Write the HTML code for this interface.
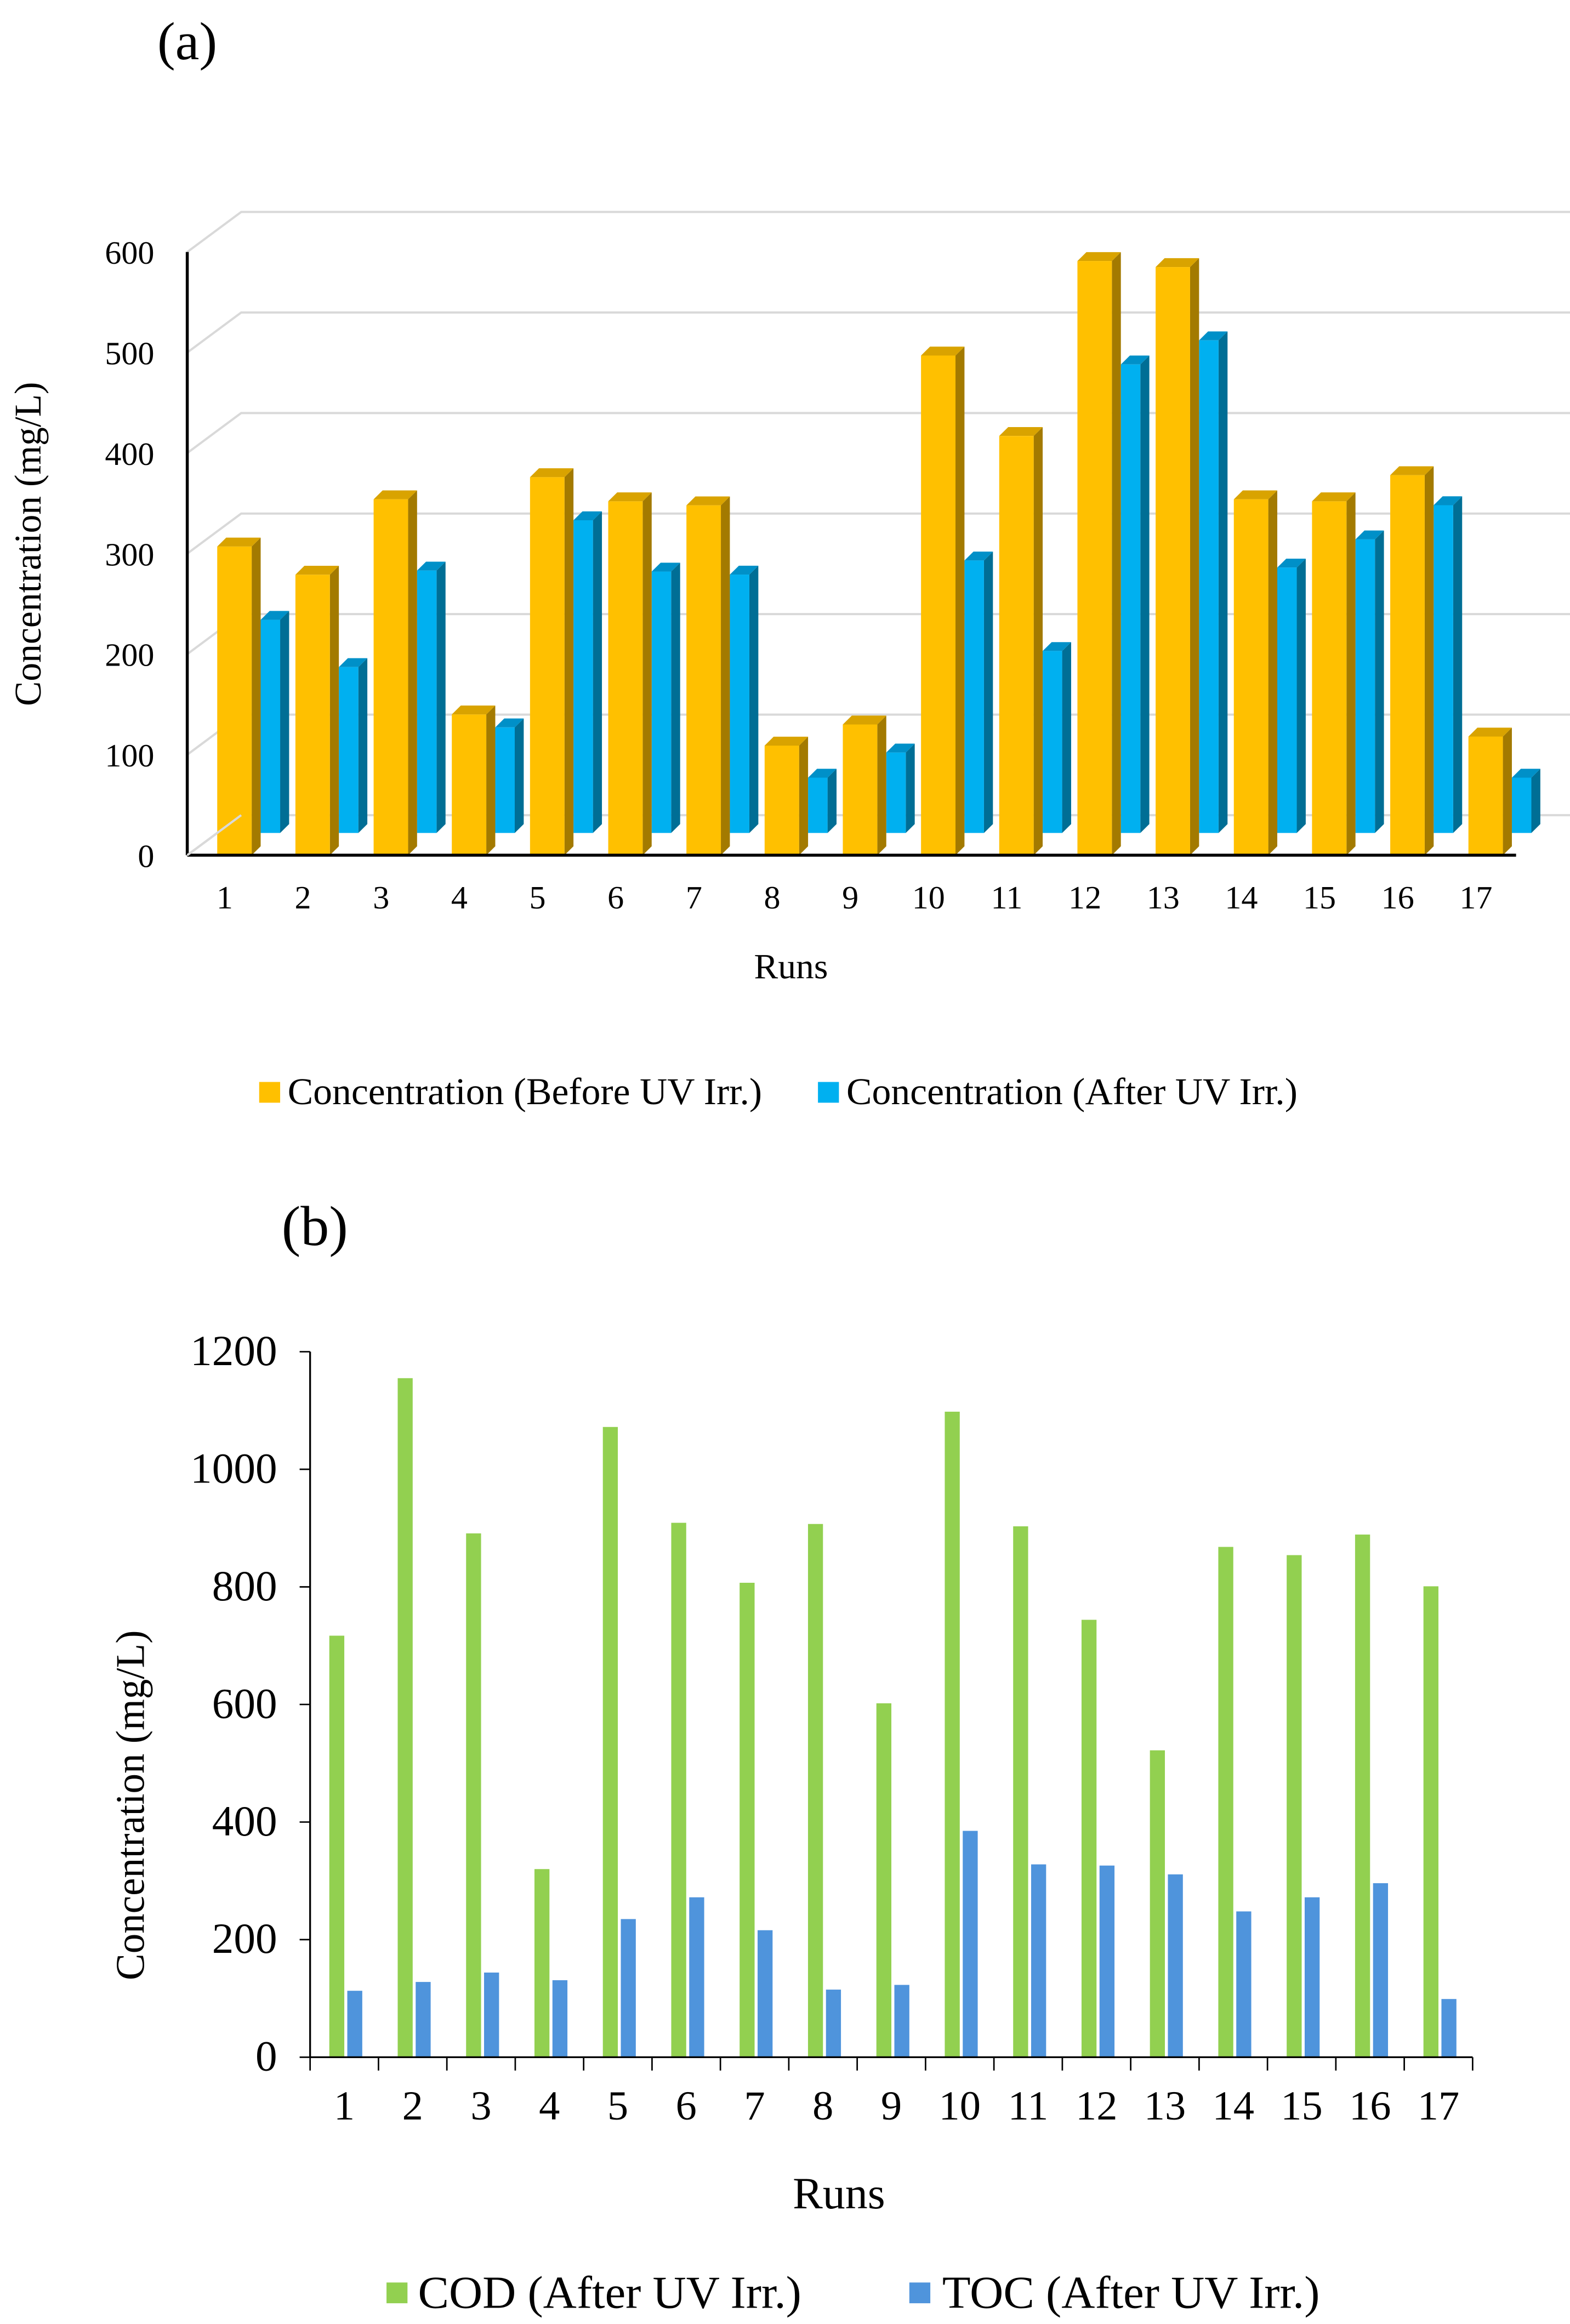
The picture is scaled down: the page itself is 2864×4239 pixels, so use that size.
<!DOCTYPE html>
<html><head><meta charset="utf-8"><style>
html,body{margin:0;padding:0;background:#fff}
svg{display:block}
text{font-family:"Liberation Serif",serif;fill:#000}
</style></head><body>
<svg id="chart" width="2864" height="4239" viewBox="0 0 1048 1568" preserveAspectRatio="none" xmlns="http://www.w3.org/2000/svg">
<text x="105" y="40" font-size="36">(a)</text>
<text x="188" y="840" font-size="38">(b)</text>
<g id="ga"></g>
<g id="gb"></g>
</svg>
<script>
const runs = ["1","2","3","4","5","6","7","8","9","10","11","12","13","14","15","16","17"];
const beforeUV = [307,279,354,140,376,352,348,109,130,497,417,591,585,354,352,378,118];
const afterUV = [212,165,261,105,311,260,257,55,80,271,181,466,490,264,292,326,55];
const ticksA = [0,100,200,300,400,500,600];
const cod = [717,1155,891,320,1072,909,807,907,602,1098,903,744,522,868,854,889,801];
const toc = [113,128,144,131,235,272,216,115,123,385,328,326,311,248,272,296,99];
const ticksB = [0,200,400,600,800,1000,1200];

const NS="http://www.w3.org/2000/svg";
function mk(parent,tag,attrs,txt){const e=document.createElementNS(NS,tag);for(const k in attrs)e.setAttribute(k,attrs[k]);if(txt!==undefined)e.textContent=txt;parent.appendChild(e);return e;}

// ---- Chart A (3D) ----
const ga=document.getElementById('ga');
const aX0=125, aY0=577, aK=407/600, dX=36, dY=-27, aRight=1048;
const aStep=52.2, aFirst=150;
function yA(v){return aY0-v*aK;}
function xA(i){return aFirst+i*aStep;}
ticksA.forEach(t=>{
  const y=yA(t);
  const g=mk(ga,'polyline',{points:`${aX0},${y} ${aX0+dX},${y+dY} ${aRight},${y+dY}`,fill:'none',stroke:'#d9d9d9','stroke-width':1.5});
  
  
  const l=mk(ga,'text',{x:103,y:y+8,'font-size':22,'text-anchor':'end'},String(t));
  
  
});
function bar3d(x,w,yb,v,cf,cs,ct,name){
  const yt=yb-v*aK, d=6;
  const g=mk(ga,'g',{});
  
  
  mk(g,'polygon',{points:`${x+w},${yt} ${x+w+d},${yt-d} ${x+w+d},${yb-d} ${x+w},${yb}`,fill:cs});
  mk(g,'polygon',{points:`${x},${yt} ${x+d},${yt-d} ${x+w+d},${yt-d} ${x+w},${yt}`,fill:ct});
  mk(g,'rect',{x:x,y:yt,width:w,height:v*aK,fill:cf});
}
runs.forEach((r,i)=>{
  const c=xA(i);
  bar3d(c+24,13,562,afterUV[i],'#00B0F0','#006E95','#0090C8','bar-after-uv-'+r);
  bar3d(c-5,23,577,beforeUV[i],'#FFC000','#A37A00','#D9A300','bar-before-uv-'+r);
  const t=mk(ga,'text',{x:c,y:613,'font-size':22,'text-anchor':'middle'},r);
  
  
});
let e;
e=mk(ga,'line',{x1:aX0,y1:170,x2:aX0,y2:aY0,stroke:'#000','stroke-width':2});

e=mk(ga,'line',{x1:aX0,y1:aY0,x2:1012,y2:aY0,stroke:'#000','stroke-width':2});

e=mk(ga,'line',{x1:aX0,y1:aY0,x2:aX0+dX,y2:aY0+dY,stroke:'#d9d9d9','stroke-width':1.5});
e=mk(ga,'text',{x:0,y:0,'font-size':25,'text-anchor':'middle',transform:'translate(27,367) rotate(-90)'},'Concentration (mg/L)');

e=mk(ga,'text',{x:528,y:660,'font-size':24,'text-anchor':'middle'},'Runs');

e=mk(ga,'rect',{x:173,y:730,width:14,height:14,fill:'#FFC000'});

e=mk(ga,'text',{x:192,y:745,'font-size':25.5},'Concentration (Before UV Irr.)');

e=mk(ga,'rect',{x:546,y:730,width:14,height:14,fill:'#00B0F0'});

e=mk(ga,'text',{x:565,y:745,'font-size':25.5},'Concentration (After UV Irr.)');


// ---- Chart B ----
const gb=document.getElementById('gb');
const bX0=207, bX1=983, bY0=1388, bK=476/1200;
const bStep=(bX1-bX0)/runs.length;
function yB(v){return bY0-v*bK;}
function xB(i){return bX0+bStep*(i+0.5);}
ticksB.forEach(t=>{
  const y=yB(t);
  const l=mk(gb,'text',{x:185,y:y+9,'font-size':29,'text-anchor':'end'},String(t));
  
  
  mk(gb,'line',{x1:bX0-7,y1:y,x2:bX0,y2:y,stroke:'#000','stroke-width':1});
});
runs.forEach((r,i)=>{
  const c=xB(i);
  let b=mk(gb,'rect',{x:c-10,y:yB(cod[i]),width:10,height:cod[i]*bK,fill:'#92D050'});
  
  
  b=mk(gb,'rect',{x:c+2,y:yB(toc[i]),width:10,height:toc[i]*bK,fill:'#4F94DC'});
  
  
  const t=mk(gb,'text',{x:c,y:1430,'font-size':28,'text-anchor':'middle'},r);
  
  
});
for(let i=0;i<=runs.length;i++){const x=bX0+bStep*i;mk(gb,'line',{x1:x,y1:bY0,x2:x,y2:bY0+9,stroke:'#000','stroke-width':1});}
e=mk(gb,'line',{x1:bX0,y1:yB(1200),x2:bX0,y2:bY0,stroke:'#000','stroke-width':1.2});

e=mk(gb,'line',{x1:bX0,y1:bY0,x2:bX1,y2:bY0,stroke:'#000','stroke-width':1.2});

e=mk(gb,'text',{x:0,y:0,'font-size':27,'text-anchor':'middle',transform:'translate(96,1218) rotate(-90)'},'Concentration (mg/L)');

e=mk(gb,'text',{x:560,y:1490,'font-size':30,'text-anchor':'middle'},'Runs');

e=mk(gb,'rect',{x:258,y:1540,width:14,height:14,fill:'#92D050'});

e=mk(gb,'text',{x:279,y:1557,'font-size':31},'COD (After UV Irr.)');

e=mk(gb,'rect',{x:607,y:1540,width:14,height:14,fill:'#4F94DC'});

e=mk(gb,'text',{x:629,y:1557,'font-size':31},'TOC (After UV Irr.)');

</script>
</body></html>
